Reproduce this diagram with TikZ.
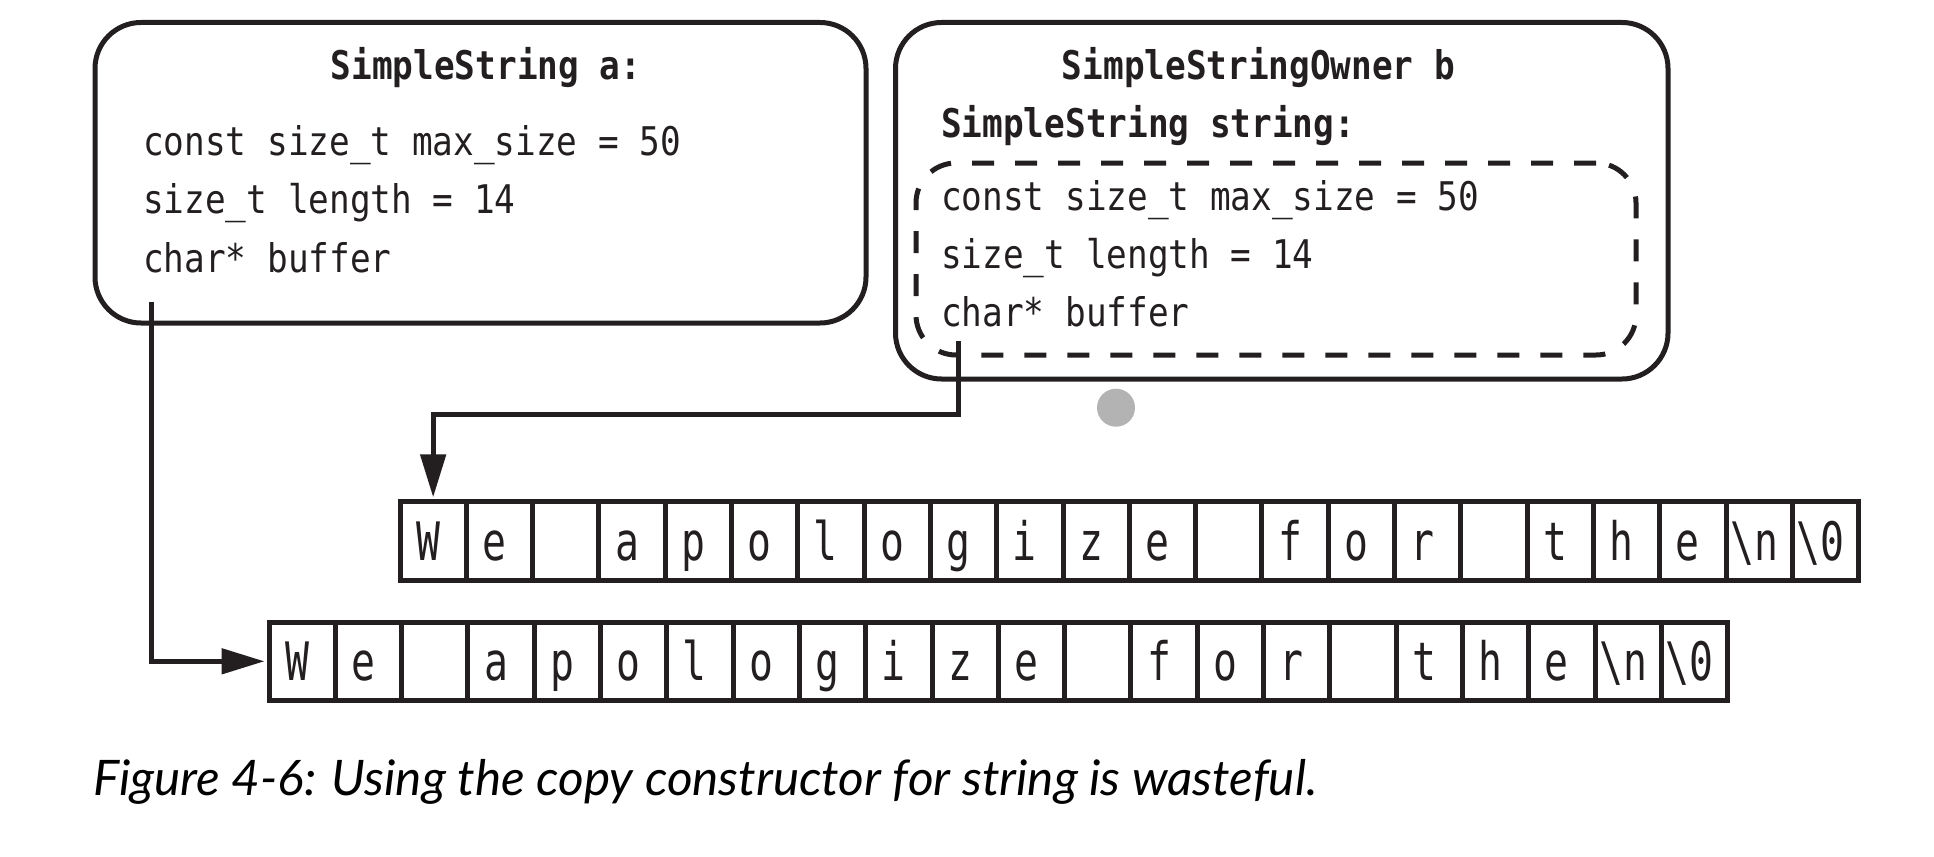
\documentclass[tikz,border=0pt]{standalone}
\usepackage{fontspec}
\usepackage{graphicx}
\usetikzlibrary{arrows.meta}
\newfontfamily\codefont{DejaVu Sans Mono}[FakeStretch=0.87]
\newfontfamily\cellfont{DejaVu Sans Mono}[FakeStretch=0.75]
\newfontfamily\capfont{Lato}
\definecolor{ink}{HTML}{231F20}
\definecolor{dotgray}{HTML}{B3B3B3}
\tikzset{
  objbox/.style={draw=ink, line width=5pt, rounded corners=46pt, inner sep=0pt},
  innerbox/.style={draw=ink, line width=5pt, rounded corners=40pt, dash pattern=on 22pt off 21pt, inner sep=0pt},
  codeline/.style={anchor=base west, inner sep=0pt, text=ink, font=\codefont\fontsize{39.5}{40}\selectfont},
  titleline/.style={anchor=base, inner sep=0pt, text=ink, font=\codefont\bfseries\fontsize{39.5}{40}\selectfont},
  cell/.style={draw=ink, line width=5pt, minimum width=66.3pt, minimum height=78.5pt, inner sep=0pt,
    text height=38.7pt, text depth=0pt, text=ink, font=\cellfont\fontsize{53}{54}\selectfont},
  conn/.style={draw=ink, line width=5pt, -{Triangle[length=43pt,width=25pt]}},
}
\begin{document}
\begin{tikzpicture}[x=1pt,y=-1pt]
\useasboundingbox (0,0) rectangle (1934,856);
% box a
\node[objbox, minimum width=771pt, minimum height=300.5pt] (boxa) at (480.5,172.75) {};
\node[titleline] (ta) at (486,80) {SimpleString a:};
\node[codeline] (a1) at (143,155) {const size\_t max\_size = 50};
\node[codeline] (a2) at (143,213.5) {size\_t length = 14};
\node[codeline] (a3) at (143,272) {char* buffer};
% box b
\node[objbox, minimum width=772.5pt, minimum height=356.5pt] (boxb) at (1281.75,200.75) {};
\node[titleline] (tb) at (1258.5,80) {SimpleStringOwner b};
\node[titleline, anchor=base west] (tb2) at (941,138) {SimpleString string:};
\node[innerbox, minimum width=720pt, minimum height=192pt] (inner) at (1276,259) {};
\node[codeline] (b1) at (941,210) {const size\_t max\_size = 50};
\node[codeline] (b2) at (941,268) {size\_t length = 14};
\node[codeline] (b3) at (941,326) {char* buffer};
% dot
\node[circle, fill=dotgray, minimum size=38pt, inner sep=0pt] (dot) at (1116,407.7) {};
% arrays
\foreach \c [count=\i] in {W,e,{},a,p,o,l,o,g,i,z,e,{},f,o,r,{},t,h,e,{\textbackslash n},{\textbackslash 0}}{
  \node[cell] (ra\i) at ({400+33.15+(\i-1)*66.3},541.1) {\kern-10pt\c};
  \node[cell] (rb\i) at ({269+33.15+(\i-1)*66.3},661.3) {\kern-10pt\c};
}
% connectors
\coordinate (aptr) at (151,302);
\coordinate (bptr) at (958,341);
\coordinate (bturn) at (958,414);
\draw[conn, shorten >=2pt] (aptr) |- (rb1.west);
\draw[conn, shorten >=2pt] (bptr) -- (bturn) -| (ra1.north);
% caption
\node[anchor=base west, inner sep=0pt, text=black] (cap) at (93,795)
  {\resizebox{1224pt}{\height}{\capfont\itshape\fontsize{49}{50}\selectfont Figure 4-6: Using the copy constructor for string is wasteful.}};
\end{tikzpicture}
\end{document}
